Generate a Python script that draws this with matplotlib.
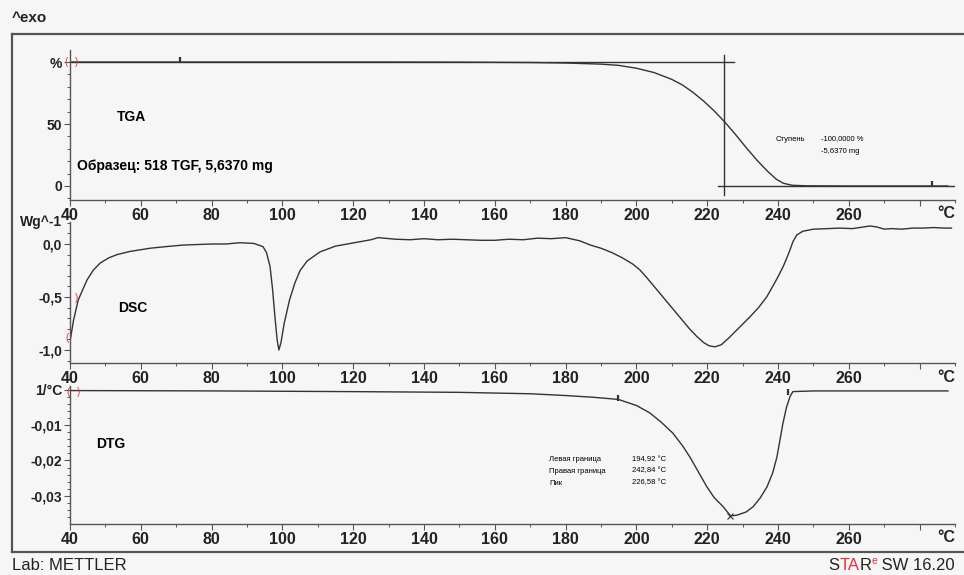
import numpy as np
import matplotlib
matplotlib.use('Agg')
import matplotlib.pyplot as plt
from matplotlib.ticker import MultipleLocator, FixedLocator

plt.rcParams['font.family'] = ['Liberation Sans', 'DejaVu Sans']

# TGA, %
tga_t = [40, 70, 100, 130, 150, 170, 180, 190, 195, 200, 205, 210, 213, 216, 219, 222, 225, 228, 231, 234, 237, 239.5, 241.5, 244, 248, 260, 288]
tga_v = [100, 100, 100, 100, 99.9, 99.6, 99.2, 98.3, 97.3, 95, 91.5, 86, 81.5, 75.5, 68.5, 60.5, 51.5, 41.5, 31, 21, 12, 5.5, 2.2, 0.6, 0.15, 0, 0]

# DSC, Wg^-1
dsc_t = [40, 41, 42.3, 44.8, 46.5, 48.5, 51, 53.3, 57, 62.6, 67, 72, 76, 80, 84, 88, 92, 94.5, 95.5, 96.5,
         97.2, 97.9, 98.5, 99, 99.6, 100.5, 102, 103.5, 105, 107, 110.6, 115, 120, 125, 127, 132, 136, 140,
         144, 148, 152, 156, 160, 164, 168, 172, 176, 180, 184, 187, 190, 193, 196, 199, 201, 203, 205,
         207, 209, 211, 213, 215, 217, 219, 220.5, 222.2, 224, 226, 229.3, 232, 234.5, 236.8, 238.5, 240, 241.5, 243,
         244.2, 245.3, 247, 250, 254, 257.5, 261, 264, 266, 268, 270, 272, 275, 278, 281, 284, 287, 289]
dsc_v = [-0.92, -0.72, -0.53, -0.34, -0.25, -0.18, -0.13, -0.10, -0.07, -0.04, -0.025, -0.01, -0.005, 0.0, 0.0, 0.012, 0.005, -0.025, -0.08, -0.21,
         -0.42, -0.69, -0.90, -1.0, -0.93, -0.75, -0.53, -0.37, -0.25, -0.16, -0.075, -0.02, 0.01, 0.04, 0.06, 0.045, 0.04, 0.05,
         0.04, 0.045, 0.04, 0.035, 0.035, 0.045, 0.04, 0.055, 0.05, 0.06, 0.03, -0.01, -0.04, -0.08, -0.13, -0.19, -0.245, -0.32, -0.40,
         -0.48, -0.56, -0.64, -0.72, -0.80, -0.87, -0.93, -0.96, -0.97, -0.95, -0.89, -0.78, -0.69, -0.6, -0.50, -0.40, -0.31, -0.21, -0.09,
         0.02, 0.085, 0.12, 0.14, 0.145, 0.15, 0.145, 0.16, 0.17, 0.16, 0.14, 0.145, 0.14, 0.15, 0.15, 0.155, 0.15, 0.15]

# DTG, 1/°C
dtg_t = [40, 80, 120, 150, 170, 180, 188, 194.92, 200, 203.8, 207, 210.3, 213, 215.1, 217.5, 219.9, 222, 224.5, 226.58,
         228.4, 231, 233, 235, 236.9, 238.5, 239.7, 240.6, 241.4, 242.4, 243.4, 244.2, 250, 288]
dtg_v = [-0.0003, -0.0004, -0.0006, -0.0008, -0.0012, -0.0017, -0.0022, -0.0028, -0.0045, -0.0066, -0.0092, -0.0123, -0.0158, -0.019, -0.0232, -0.0274, -0.0305, -0.033, -0.0356,
         -0.0354, -0.0345, -0.033, -0.0305, -0.0274, -0.0235, -0.019, -0.014, -0.0095, -0.005, -0.002, -0.0006, -0.0004, -0.0004]

x_ticks = [40, 60, 80, 100, 120, 140, 160, 180, 200, 220, 240, 260, 280]
x_labels = ['40', '60', '80', '100', '120', '140', '160', '180', '200', '220', '240', '260', '']

W, H = 964, 575
bg = '#f6f6f6'
ink = '#333333'
red = '#e8303a'

fig = plt.figure(figsize=(W / 100, H / 100), dpi=100, facecolor=bg)


def box(x0, y0, x1, y1):
    return [x0 / W, 1 - y1 / H, (x1 - x0) / W, (y1 - y0) / H]


def style(ax, ylim, yticks, ylabels, yminor):
    ax.set_facecolor('none')
    ax.set_xlim(40, 290)
    ax.set_ylim(*ylim)
    for s in ['top', 'right']:
        ax.spines[s].set_visible(False)
    for s in ['left', 'bottom']:
        ax.spines[s].set_color('#555555')
        ax.spines[s].set_linewidth(1.0)
    ax.xaxis.set_major_locator(FixedLocator(x_ticks))
    ax.set_xticklabels(x_labels)
    ax.xaxis.set_minor_locator(MultipleLocator(10))
    ax.set_yticks(yticks)
    ax.set_yticklabels(ylabels)
    ax.yaxis.set_minor_locator(MultipleLocator(yminor))
    ax.tick_params(which='major', direction='out', length=4, width=0.8, color='#555555',
                   labelsize=10, labelcolor='#222222')
    ax.tick_params(which='minor', direction='out', length=2.5, width=0.7, color='#555555')
    ax.tick_params(axis='x', pad=2, labelsize=11.5)
    ax.tick_params(axis='y', pad=1.5)
    for lab in ax.get_xticklabels() + ax.get_yticklabels():
        lab.set_fontweight('bold')
    ax.annotate('°C', xy=(287.5, 0), xycoords=ax.get_xaxis_transform(), xytext=(0, -14),
                textcoords='offset pixels', ha='center', va='center', fontsize=11.5,
                fontweight='bold', color='#222222', annotation_clip=False)


# TGA
ax1 = fig.add_axes(box(70, 50, 955, 200))
style(ax1, (-11.3, 109.7), [0, 50, 100], ['0', '50', '%'], 10)
ax1.plot(tga_t, tga_v, color=ink, lw=1.0)
ax1.plot([40, 227.7], [100, 100], color=ink, lw=1.0)
ax1.plot([224.7, 224.7], [105.6, -7.3], color=ink, lw=1.0)
ax1.plot([223.1, 290], [0, 0], color=ink, lw=1.0)
ax1.text(53.3, 55.6, 'TGA', fontsize=10, fontweight='bold', va='center')
ax1.text(42, 16.1, 'Образец: 518 TGF, 5,6370 mg', fontsize=10, fontweight='bold', va='center')
ax1.text(239.2, 37.9, 'Ступень', fontsize=5.5, va='center')
ax1.text(252.1, 37.9, '-100,0000 %', fontsize=5.5, va='center')
ax1.text(252.1, 28.2, '-5,6370 mg', fontsize=5.5, va='center')
ax1.plot([71], [102], marker='|', ms=5, mew=1.6, color=ink)
ax1.plot([283.5], [2], marker='|', ms=5, mew=1.6, color=ink)
ax1.text(38.9, 100, '(', color=red, fontsize=7, ha='center', va='center', clip_on=False)
ax1.text(42, 100, ')', color=red, fontsize=7, ha='center', va='center')

# DSC
ax2 = fig.add_axes(box(70, 222, 955, 363))
style(ax2, (-1.1226, 0.2075), [-1.0, -0.5, 0.0], ['-1,0', '-0,5', '0,0'], 0.1)
ax2.plot(dsc_t, dsc_v, color=ink, lw=1.0)
ax2.text(53.6, -0.60, 'DSC', fontsize=10, fontweight='bold', va='center')
ax2.text(42, -0.51, ')', color=red, fontsize=7, ha='center', va='center')
ax2.text(39.2, -0.89, '(', color=red, fontsize=7, ha='center', va='center', clip_on=False)

# DTG
ax3 = fig.add_axes(box(70, 386, 955, 524))
style(ax3, (-0.03789, 0.000986), [-0.03, -0.02, -0.01, 0.0], ['-0,03', '-0,02', '-0,01', '1/°C'], 0.002)
ax3.plot(dtg_t, dtg_v, color=ink, lw=1.0)
ax3.text(47.3, -0.01535, 'DTG', fontsize=10, fontweight='bold', va='center')
ax3.text(175.3, -0.0197, 'Левая граница', fontsize=5.5, va='center')
ax3.text(175.3, -0.02296, 'Правая граница', fontsize=5.5, va='center')
ax3.text(175.3, -0.02634, 'Пик', fontsize=5.5, va='center')
ax3.text(198.8, -0.0197, '194,92 °C', fontsize=5.5, va='center')
ax3.text(198.8, -0.02296, '242,84 °C', fontsize=5.5, va='center')
ax3.text(198.8, -0.02634, '226,58 °C', fontsize=5.5, va='center')
ax3.plot([226.58], [-0.0356], marker='x', ms=5, mew=0.8, color=ink)
ax3.plot([194.92], [-0.0024], marker='|', ms=5, mew=1.6, color=ink)
ax3.plot([242.84], [-0.0006], marker='|', ms=5, mew=1.6, color=ink)
ax3.text(39.4, -0.0007, '(', color=red, fontsize=7, ha='center', va='center', clip_on=False)
ax3.text(42.3, -0.0007, ')', color=red, fontsize=7, ha='center', va='center')

# frame and page texts in pixel coordinates
ov = fig.add_axes([0, 0, 1, 1], zorder=-1)
ov.set_xlim(0, W)
ov.set_ylim(H, 0)
ov.axis('off')
ov.plot([12, W], [34, 34], color='#555555', lw=1.6)
ov.plot([12, W], [552, 552], color='#555555', lw=1.6)
ov.plot([12, 12], [34, 552], color='#555555', lw=1.6)
ov.text(12, 18, '^exo', fontsize=11, fontweight='bold', va='center', color='#222222')
ov.text(62, 222, 'Wg^-1', fontsize=10, fontweight='bold', ha='right', va='center', color='#222222')
ov.text(12, 566, 'Lab: METTLER', fontsize=12, va='center', color='#222222')
t1 = ov.text(955, 566, ' SW 16.20', fontsize=12, ha='right', va='center', color='#222222')
t2 = ov.annotate('e', xy=(0, 0.5), xycoords=t1, fontsize=7.5, ha='right', va='bottom', color=red)
t3 = ov.annotate('R', xy=(0, 0), xycoords=(t2, t1), fontsize=12, ha='right', va='bottom', color='#222222')
t4 = ov.annotate('TA', xy=(0, 0), xycoords=t3, fontsize=12, ha='right', va='bottom', color=red)
t5 = ov.annotate('S', xy=(0, 0), xycoords=t4, fontsize=12, ha='right', va='bottom', color='#222222')

fig.savefig('out.png', dpi=100, facecolor=bg)
